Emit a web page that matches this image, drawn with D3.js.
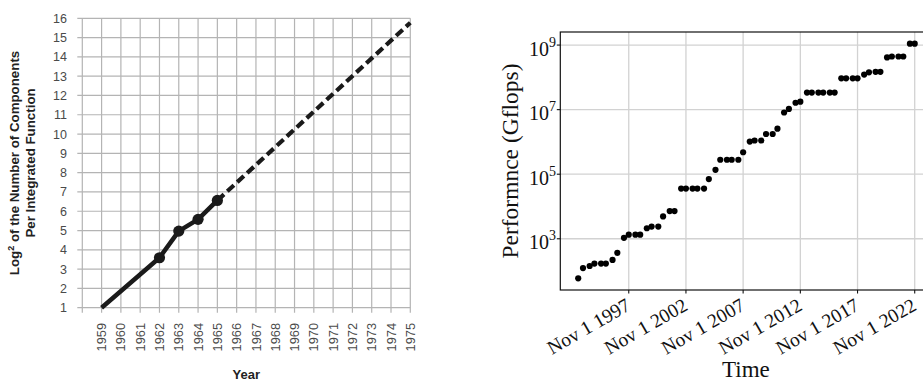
<!DOCTYPE html>
<html>
<head>
<meta charset="utf-8">
<script src="https://cdn.jsdelivr.net/npm/d3@7"></script>
<style>
  html, body { margin: 0; padding: 0; background: #fff; }
  svg { display: block; }
</style>
</head>
<body>
<script>
// ---------- Left chart data (Moore's 1965 plot) ----------
const mooreYears = [1959, 1962, 1963, 1964, 1965];
const mooreValues = [1, 3.59, 4.97, 5.58, 6.56];
const mooreMarkerYears = [1962, 1963, 1964, 1965];
const mooreMarkerValues = [3.59, 4.97, 5.58, 6.56];
const projYears = [1965, 1975];
const projValues = [6.56, 15.77];
const leftYearTicks = [1958,1959,1960,1961,1962,1963,1964,1965,1966,1967,1968,1969,1970,1971,1972,1973,1974,1975];
const leftYearLabels = ["","1959","1960","1961","1962","1963","1964","1965","1966","1967","1968","1969","1970","1971","1972","1973","1974","1975"];
const leftValueTicks = [1,2,3,4,5,6,7,8,9,10,11,12,13,14,15,16];

// ---------- Right chart data (TOP500 #1 performance) ----------
const top500Dates = [
  "1993-06","1993-11","1994-06","1994-11","1995-06","1995-11","1996-06","1996-11",
  "1997-06","1997-11","1998-06","1998-11","1999-06","1999-11","2000-06","2000-11",
  "2001-06","2001-11","2002-06","2002-11","2003-06","2003-11","2004-06","2004-11",
  "2005-06","2005-11","2006-06","2006-11","2007-06","2007-11","2008-06","2008-11",
  "2009-06","2009-11","2010-06","2010-11","2011-06","2011-11","2012-06","2012-11",
  "2013-06","2013-11","2014-06","2014-11","2015-06","2015-11","2016-06","2016-11",
  "2017-06","2017-11","2018-06","2018-11","2019-06","2019-11","2020-06","2020-11",
  "2021-06","2021-11","2022-06","2022-11"
];
const top500Gflops = [
  59.7, 124, 143.4, 170, 170, 170, 220.4, 368.2,
  1068, 1338, 1338, 1338, 2121, 2379, 2379, 4938,
  7226, 7226, 35860, 35860, 35860, 35860, 35860, 70720,
  136800, 280600, 280600, 280600, 280600, 478200, 1026000, 1105000,
  1105000, 1759000, 1759000, 2566000, 8162000, 10510000, 16324751, 17590000,
  33862700, 33862700, 33862700, 33862700, 33862700, 33862700, 93014594, 93014594,
  93014594, 93014594, 122300000, 143500000, 148600000, 148600000, 415530000, 442010000,
  442010000, 442010000, 1102000000, 1102000000
];
const rightDateTicks = ["1997-11-01","2002-11-01","2007-11-01","2012-11-01","2017-11-01","2022-11-01"];
const rightValueTicks = [1e3, 1e5, 1e7, 1e9];
const rightValueExps = ["3","5","7","9"];

// ---------- Setup ----------
const W = 923, H = 381;
const svg = d3.select("body").append("svg").attr("width", W).attr("height", H);
svg.append("rect").attr("width", W).attr("height", H).attr("fill", "#fff");

// ================= LEFT CHART =================
const L = { x0: 82.3, x1: 410.3, y0: 18.3, y1: 307.7, tick: 5 };
const xL = d3.scaleLinear().domain([1958, 1975]).range([L.x0, L.x1]);
const yL = d3.scaleLinear().domain([1, 16]).range([L.y1, L.y0]);
const gL = svg.append("g");
const gridColor = "#b4b4b4";

gL.append("g").selectAll("line").data(leftYearTicks).join("line")
  .attr("x1", d => xL(d)).attr("x2", d => xL(d))
  .attr("y1", L.y0).attr("y2", L.y1 + L.tick)
  .attr("stroke", gridColor).attr("stroke-width", 1.2);
gL.append("g").selectAll("line").data(leftValueTicks).join("line")
  .attr("x1", L.x0 - L.tick).attr("x2", L.x1)
  .attr("y1", d => yL(d)).attr("y2", d => yL(d))
  .attr("stroke", gridColor).attr("stroke-width", 1.2);

const leftFont = "'Liberation Sans', Arimo, Helvetica, Arial, sans-serif";
gL.append("g").selectAll("text").data(leftValueTicks).join("text")
  .attr("x", 67).attr("y", d => yL(d)).attr("dy", "0.36em")
  .attr("text-anchor", "end")
  .attr("font-family", leftFont).attr("font-size", 12.5).attr("fill", "#4a4a4a")
  .text(d => d);
gL.append("g").selectAll("text").data(leftYearTicks).join("text")
  .attr("transform", d => `translate(${xL(d) + 4.6},323) rotate(-90)`)
  .attr("text-anchor", "end")
  .attr("font-family", leftFont).attr("font-size", 12.8).attr("fill", "#4a4a4a")
  .text((d, i) => leftYearLabels[i]);

const lineL = d3.line().x(d => xL(d[0])).y(d => yL(d[1]));
gL.append("path")
  .datum(mooreYears.map((y, i) => [y, mooreValues[i]]))
  .attr("d", lineL).attr("fill", "none")
  .attr("stroke", "#1a1a1a").attr("stroke-width", 4.5).attr("stroke-linejoin", "round");
gL.append("path")
  .datum(projYears.map((y, i) => [y, projValues[i]]))
  .attr("d", lineL).attr("fill", "none")
  .attr("stroke", "#1a1a1a").attr("stroke-width", 4.2)
  .attr("stroke-dasharray", "9,4.5");
gL.append("g").selectAll("circle").data(mooreMarkerYears).join("circle")
  .attr("cx", d => xL(d)).attr("cy", (d, i) => yL(mooreMarkerValues[i]))
  .attr("r", 5.6).attr("fill", "#1a1a1a");

const yTitleL = gL.append("text")
  .attr("transform", `translate(18.5,${(L.y0 + L.y1) / 2}) rotate(-90)`)
  .attr("text-anchor", "middle")
  .attr("font-family", leftFont).attr("font-size", 13.3).attr("font-weight", "bold").attr("fill", "#222");
yTitleL.append("tspan").text("Log");
yTitleL.append("tspan").attr("font-size", 9).attr("dy", -5).text("2");
yTitleL.append("tspan").attr("dy", 5).text(" of the Number of Components");
gL.append("text")
  .attr("transform", `translate(35,${(L.y0 + L.y1) / 2}) rotate(-90)`)
  .attr("text-anchor", "middle")
  .attr("font-family", leftFont).attr("font-size", 13.3).attr("font-weight", "bold").attr("fill", "#222")
  .text("Per Integrated Function");
gL.append("text")
  .attr("x", (L.x0 + L.x1) / 2).attr("y", 379)
  .attr("text-anchor", "middle")
  .attr("font-family", leftFont).attr("font-size", 13).attr("font-weight", "bold").attr("fill", "#222")
  .text("Year");

// ================= RIGHT CHART =================
const R = { x0: 560.3, x1: 931.5, y0: 32, y1: 290 };
const parseYM = d3.timeParse("%Y-%m");
const parseYMD = d3.timeParse("%Y-%m-%d");
const xR = d3.scaleTime()
  .domain([parseYMD("1991-11-07"), parseYMD("2024-04-20")])
  .range([R.x0, R.x1]);
const yR = d3.scaleLog()
  .domain([Math.pow(10, 1.413), Math.pow(10, 9.405)])
  .range([R.y1, R.y0]);
const gR = svg.append("g");
const serif = "'Liberation Serif', 'Times New Roman', Times, serif";
const gridR = "#d2d2d2";
const tickDates = rightDateTicks.map(parseYMD);

gR.append("g").selectAll("line").data(tickDates).join("line")
  .attr("x1", d => xR(d)).attr("x2", d => xR(d))
  .attr("y1", R.y0).attr("y2", R.y1)
  .attr("stroke", gridR).attr("stroke-width", 1.3);
gR.append("g").selectAll("line").data(rightValueTicks).join("line")
  .attr("x1", R.x0).attr("x2", R.x1)
  .attr("y1", d => yR(d)).attr("y2", d => yR(d))
  .attr("stroke", gridR).attr("stroke-width", 1.3);

gR.append("g").selectAll("circle").data(top500Dates).join("circle")
  .attr("cx", d => xR(parseYM(d)))
  .attr("cy", (d, i) => yR(top500Gflops[i]))
  .attr("r", 3.1).attr("fill", "#000");

gR.append("rect")
  .attr("x", R.x0).attr("y", R.y0)
  .attr("width", R.x1 - R.x0).attr("height", R.y1 - R.y0)
  .attr("fill", "none").attr("stroke", "#111").attr("stroke-width", 1.2);

gR.append("g").selectAll("line").data(tickDates).join("line")
  .attr("x1", d => xR(d)).attr("x2", d => xR(d))
  .attr("y1", R.y1).attr("y2", R.y1 + 3.5)
  .attr("stroke", "#111").attr("stroke-width", 1.1);
gR.append("g").selectAll("line").data(rightValueTicks).join("line")
  .attr("x1", R.x0 - 3.5).attr("x2", R.x0)
  .attr("y1", d => yR(d)).attr("y2", d => yR(d))
  .attr("stroke", "#111").attr("stroke-width", 1.1);

const yl = gR.append("g").selectAll("text").data(rightValueTicks).join("text")
  .attr("x", 556).attr("y", d => yR(d) + 10.5)
  .attr("text-anchor", "end")
  .attr("font-family", serif).attr("font-size", 20).attr("fill", "#111");
yl.append("tspan").text("10");
yl.append("tspan").attr("dy", -9).attr("font-size", 14).text((d, i) => rightValueExps[i]);

const fmt = d3.timeFormat("%b %-d %Y");
gR.append("g").selectAll("text").data(tickDates).join("text")
  .attr("transform", d => `translate(${xR(d) + 3},309) rotate(-30)`)
  .attr("text-anchor", "end")
  .attr("font-family", serif).attr("font-size", 19.5).attr("fill", "#111")
  .text(d => fmt(d));

gR.append("text")
  .attr("transform", `translate(517.7,${(R.y0 + R.y1) / 2}) rotate(-90)`)
  .attr("text-anchor", "middle")
  .attr("font-family", serif).attr("font-size", 23.5).attr("fill", "#111")
  .text("Performnce (Gflops)");
gR.append("text")
  .attr("x", (R.x0 + R.x1) / 2).attr("y", 376.5)
  .attr("text-anchor", "middle")
  .attr("font-family", serif).attr("font-size", 23).attr("fill", "#111")
  .text("Time");
</script>
</body>
</html>
